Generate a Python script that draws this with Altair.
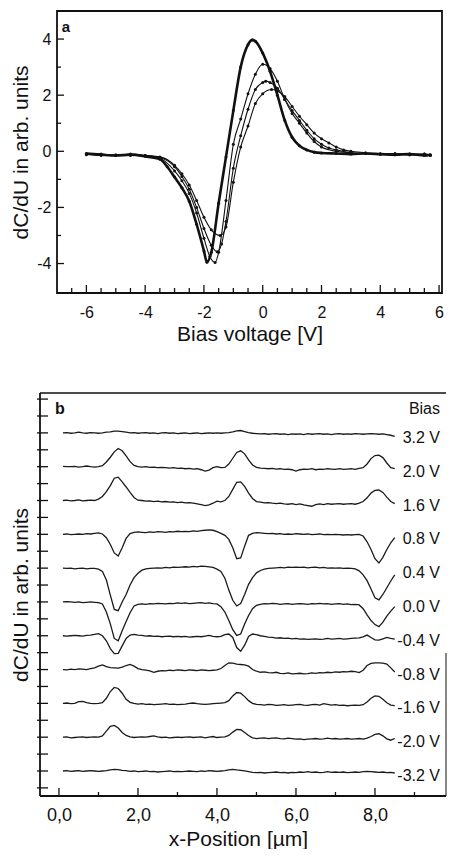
import altair as alt
import pandas as pd

FONT = "Liberation Sans"
INK = "#111111"

# ---------------- Panel a : dC/dU vs bias voltage ----------------
A1_X = [-6.0, -5.5, -5.0, -4.5, -4.0, -3.5, -3.25, -3.0, -2.75, -2.5, -2.25, -2.0, -1.9, -1.75,
        -1.5, -1.25, -1.0, -0.75, -0.5, -0.35, -0.25, 0.0, 0.25, 0.5, 0.75, 1.0, 1.25, 1.5, 1.75,
        2.0, 2.5, 3.0, 3.5, 4.0, 4.5, 5.0, 5.5, 5.7]
A1_Y = [-0.08, -0.12, -0.15, -0.12, -0.18, -0.28, -0.55, -0.92, -1.3, -1.78, -2.6, -3.55, -3.95, -3.6,
        -1.85, -0.2, 1.45, 3.0, 3.8, 3.97, 3.92, 3.5, 2.85, 2.0, 1.1, 0.5, 0.2, 0.05, -0.03,
        -0.06, -0.08, -0.1, -0.08, -0.1, -0.12, -0.1, -0.15, -0.12]

A2_X = [-6.0, -5.5, -5.0, -4.5, -4.0, -3.5, -3.0, -2.75, -2.5, -2.25, -2.0, -1.8, -1.62, -1.5,
        -1.25, -1.0, -0.75, -0.5, -0.25, 0.0, 0.25, 0.5, 0.75, 1.0, 1.25, 1.5, 1.75, 2.0, 2.5,
        3.0, 3.5, 4.0, 4.5, 5.0, 5.5, 5.7]
A2_Y = [-0.1, -0.15, -0.12, -0.15, -0.15, -0.25, -0.7, -1.05, -1.5, -2.2, -3.1, -3.75, -3.96, -3.6,
        -1.75, 0.25, 1.15, 2.05, 2.75, 3.1, 2.95, 2.5, 1.85, 1.35, 1.0, 0.65, 0.35, 0.15, 0.0,
        -0.05, -0.08, -0.1, -0.08, -0.12, -0.1, -0.13]

A3_X = [-6.0, -5.5, -5.0, -4.5, -4.0, -3.5, -3.0, -2.75, -2.5, -2.25, -2.0, -1.75, -1.55, -1.4,
        -1.25, -1.0, -0.75, -0.5, -0.25, 0.0, 0.1, 0.25, 0.5, 0.75, 1.0, 1.25, 1.5, 1.75, 2.0,
        2.25, 2.5, 3.0, 3.5, 4.0, 4.5, 5.0, 5.5, 5.7]
A3_Y = [-0.1, -0.12, -0.15, -0.1, -0.15, -0.22, -0.55, -0.9, -1.35, -2.0, -2.75, -3.35, -3.58, -3.3,
        -2.5, -0.6, 0.55, 1.5, 2.2, 2.45, 2.5, 2.45, 2.25, 1.85, 1.45, 1.1, 0.75, 0.45, 0.25,
        0.12, 0.05, -0.05, -0.08, -0.1, -0.12, -0.1, -0.12, -0.15]

A4_X = [-6.0, -5.5, -5.0, -4.5, -4.0, -3.5, -3.0, -2.75, -2.5, -2.25, -2.0, -1.75, -1.45, -1.25,
        -1.0, -0.75, -0.5, -0.25, 0.0, 0.3, 0.5, 0.75, 1.0, 1.25, 1.5, 1.75, 2.0, 2.25, 2.5,
        2.75, 3.0, 3.5, 4.0, 4.5, 5.0, 5.5, 5.7]
A4_Y = [-0.12, -0.1, -0.15, -0.12, -0.15, -0.2, -0.5, -0.8, -1.2, -1.75, -2.35, -2.8, -3.0, -2.7,
        -1.1, 0.15, 0.9, 1.7, 2.05, 2.2, 2.15, 1.95, 1.6, 1.25, 0.95, 0.65, 0.45, 0.3, 0.15,
        0.05, 0.0, -0.05, -0.1, -0.1, -0.12, -0.1, -0.14]

A_XTICKS = [-6, -4, -2, 0, 2, 4, 6]
A_YTICKS = [-4, -2, 0, 2, 4]
A_XTICK_MAJOR = [-6, -4, -2, 0, 2, 4, 6]
A_XTICK_MINOR = [-6.5, -5.5, -5, -4.5, -3.5, -3, -2.5, -1.5, -1, -0.5, 0.5, 1, 1.5, 2.5, 3, 3.5, 4.5, 5, 5.5]
A_YTICK_MAJOR = [-4, -2, 0, 2, 4]
A_YTICK_MINOR = [-3, -1, 1, 3]

# ---------------- Panel b : line scans at different bias ----------------
X_POS = [0.1, 0.2, 0.3, 0.4, 0.5, 0.6, 0.7, 0.8, 0.9, 1.0,
         1.1, 1.2, 1.3, 1.4, 1.5, 1.6, 1.7, 1.8, 1.9, 2.0,
         2.1, 2.2, 2.3, 2.4, 2.5, 2.6, 2.7, 2.8, 2.9, 3.0,
         3.1, 3.2, 3.3, 3.4, 3.5, 3.6, 3.7, 3.8, 3.9, 4.0,
         4.1, 4.2, 4.3, 4.4, 4.5, 4.6, 4.7, 4.8, 4.9, 5.0,
         5.1, 5.2, 5.3, 5.4, 5.5, 5.6, 5.7, 5.8, 5.9, 6.0,
         6.1, 6.2, 6.3, 6.4, 6.5, 6.6, 6.7, 6.8, 6.9, 7.0,
         7.1, 7.2, 7.3, 7.4, 7.5, 7.6, 7.7, 7.8, 7.9, 8.0,
         8.1, 8.2, 8.3, 8.4, 8.5]

# signals in hundredths of the trace spacing
S_P32 = [0, 1, -1, 0, 2, 0, -1, 1, 0, -1,
         0, 2, 3, 5, 5, 4, 2, 0, 1, -1,
         0, 1, -1, 0, -2, 0, 1, -1, 0, -2,
         -1, 0, -2, -1, 0, -2, -1, 0, -1, 0,
         -1, 0, 1, 3, 6, 7, 4, 1, -1, -2,
         -3, -2, -4, -3, -2, -4, -3, -5, -3, -4,
         -3, -5, -2, -4, -3, -2, -4, -3, -5, -3,
         -2, -4, -3, -4, -2, -3, -4, -3, -2, -3,
         -4, -3, -5, -7, -10]
S_P20 = [1, 0, 0, 1, -1, 0, 2, 0, -1, 0,
         3, 14, 28, 44, 54, 47, 32, 15, 4, 0,
         -1, 0, -2, -1, -3, -2, -3, -4, -3, -5,
         -4, -6, -5, -7, -6, -9, -13, -10, -3, 0,
         -3, -2, 8, 25, 42, 47, 38, 20, 5, -2,
         -4, -5, -6, -5, -7, -6, -8, -7, -9, -13,
         -9, -7, -8, -6, -9, -7, -8, -6, -7, -8,
         -6, -8, -7, -6, -8, -5, -3, 8, 24, 33,
         34, 27, 11, -3, -6]
S_P16 = [0, 1, -1, 0, 2, -1, 0, 1, 0, 4,
         12, 26, 44, 66, 69, 55, 40, 24, 9, 1,
         0, -2, -1, -3, -2, -4, -3, -5, -4, -6,
         -5, -7, -6, -8, -10, -12, -15, -13, -8, -2,
         -4, 0, 12, 33, 54, 55, 42, 22, 6, -3,
         -5, -7, -6, -8, -9, -8, -10, -11, -9, -12,
         -10, -13, -15, -17, -12, -10, -12, -9, -11, -10,
         -9, -11, -10, -9, -11, -8, -3, 8, 22, 30,
         31, 24, 10, -3, -9]
S_P08 = [0, 1, -1, 0, 1, 0, 2, 1, 3, 4,
         1, -10, -30, -55, -64, -40, -12, 2, 6, 7,
         6, 5, 7, 6, 8, 7, 6, 8, 7, 9,
         8, 9, 8, 10, 9, 11, 12, 13, 12, 8,
         3, -3, -15, -40, -72, -70, -35, -3, 3, 5,
         4, 3, 2, 3, 1, 2, 0, 1, 0, 2,
         1, 0, 1, -1, 0, 1, -1, 0, -1, 0,
         -1, -2, -1, -2, -1, 0, -5, -22, -45, -72,
         -85, -68, -45, -25, -10]
S_P04 = [0, -1, 0, -2, -1, 0, -2, -1, -1, -3,
         -10, -35, -80, -122, -126, -100, -78, -50, -28, -15,
         -6, -2, -1, 0, 1, 0, 2, 1, 3, 2,
         3, 4, 3, 5, 4, 6, 5, 4, 2, -3,
         -10, -30, -65, -95, -112, -105, -78, -48, -28, -14,
         -7, -3, -1, 0, 1, 2, 1, 3, 2, 3,
         2, 3, 1, 2, 3, 1, 2, 0, 1, 0,
         1, -1, 0, -1, -2, -8, -20, -37, -62, -88,
         -94, -78, -58, -38, -20]
S_P00 = [0, 1, 0, -1, 0, -2, -1, 0, -1, -2,
         -6, -30, -65, -108, -115, -85, -58, -32, -12, -7,
         -6, -7, -5, -6, -4, -5, -6, -4, -5, -3,
         -4, -3, -5, -4, -3, -2, -4, -3, -5, -6,
         -14, -30, -55, -82, -99, -95, -65, -40, -20, -10,
         -7, -5, -6, -4, -5, -7, -6, -5, -7, -6,
         -5, -6, -7, -5, -6, -4, -6, -5, -7, -6,
         -5, -7, -6, -8, -7, -9, -20, -38, -55, -67,
         -73, -60, -42, -27, -14]
S_M04 = [0, -1, 0, 1, 0, -1, 1, 2, 4, 6,
         0, -15, -38, -53, -52, -30, -8, 2, 4, 2,
         1, -1, 0, -2, -1, -3, -2, -1, -3, -2,
         -3, -2, -4, -3, -2, -3, -1, 1, -2, -3,
         -2, 3, 5, -5, -35, -46, -28, -2, 5, 3,
         0, -2, -4, -5, -7, -6, -8, -7, -9, -8,
         -10, -9, -11, -10, -9, -11, -10, -8, -10, -9,
         -8, -10, -9, -8, -7, -6, -3, 2, -5, -12,
         -13, -9, -5, -8, -10]
S_M08 = [0, -1, 1, 0, 2, 1, 0, 3, 5, 10,
         14, 9, 6, 5, 4, 7, 12, 15, 10, 3,
         0, -2, -4, -8, -5, -3, -4, -2, -3, -1,
         -2, -3, -1, -2, -3, -1, -2, -3, -2, -1,
         3, 12, 20, 19, 16, 15, 14, 10, 0, -5,
         -8, -7, -9, -10, -8, -11, -12, -10, -13, -12,
         -11, -13, -12, -10, -11, -9, -10, -8, -9, -7,
         -8, -6, -7, -5, -6, -9, -2, 12, 18, 20,
         20, 19, 16, 5, -7]
S_M16 = [0, 1, -1, 0, 5, 6, 2, 0, -1, 0,
         2, 15, 35, 47, 44, 30, 12, 3, 0, -2,
         -1, -3, -2, -4, -3, -2, -1, -3, -2, -4,
         -3, -2, 0, 1, -1, -2, -3, -2, -1, 0,
         1, 2, 8, 22, 32, 30, 20, 8, 0, -3,
         -4, -5, -3, -4, -6, -5, -4, -6, -5, -4,
         -3, -5, -6, -4, -3, -5, -1, -3, -5, -4,
         -6, -5, -7, -6, -5, -6, -4, 4, 15, 22,
         21, 12, 2, -5, -7]
S_M20 = [0, 1, -2, -1, 0, 1, -1, 0, 1, 0,
         4, 18, 32, 35, 27, 14, 5, 1, -1, 0,
         1, 0, 2, 4, 1, -1, 0, -2, -1, 0,
         -1, 0, 1, -1, 0, 1, -2, 0, 2, -1,
         0, 1, 5, 15, 23, 22, 14, 5, -2, -4,
         -3, -2, -4, -3, -2, -4, -5, -3, -4, -6,
         -5, -7, -6, -5, -4, -6, -5, -3, -5, -4,
         -6, -5, -4, -6, -5, -4, -6, -3, 2, 8,
         10, 4, -5, -9, -4]
S_M32 = [0, 1, -1, 0, 1, -1, 0, 1, 0, -1,
         0, 1, 3, 5, 4, 2, 1, -1, 0, -2,
         -1, 0, -2, -1, -3, -2, -1, 0, -2, -1,
         -2, -1, 0, -1, -2, 0, -1, 1, 0, -1,
         0, 1, 3, 5, 3, 2, 0, -2, -4, -5,
         -4, -6, -5, -4, -3, -5, -4, -6, -4, -5,
         -3, -4, -2, -4, -3, -5, -4, -2, -4, -3,
         -4, -3, -5, -4, -3, -4, -2, -1, -2, -3,
         -4, -3, -5, -4, -6]

BIAS_LABELS = ["3.2 V", "2.0 V", "1.6 V", "0.8 V", "0.4 V", "0.0 V",
               "-0.4 V", "-0.8 V", "-1.6 V", "-2.0 V", "-3.2 V"]
BIAS_OFFSETS = [10, 9, 8, 7, 6, 5, 4, 3, 2, 1, 0]
SIGNALS = [S_P32, S_P20, S_P16, S_P08, S_P04, S_P00, S_M04, S_M08, S_M16, S_M20, S_M32]

B_XTICKS = [0, 2, 4, 6, 8]
B_XTICK_MAJOR = [0, 2, 4, 6, 8]
B_XTICK_MINOR = [1, 3, 5, 7, 9]
B_YTICKS = [-0.5, 0, 0.5, 1, 1.5, 2, 2.5, 3, 3.5, 4, 4.5, 5, 5.5, 6, 6.5, 7, 7.5,
            8, 8.5, 9, 9.5, 10, 10.5, 11]

# ---------------- build tables ----------------
rows_a = []
for name, xs, ys in [("A1", A1_X, A1_Y), ("A2", A2_X, A2_Y), ("A3", A3_X, A3_Y), ("A4", A4_X, A4_Y)]:
    for xv, yv in zip(xs, ys):
        rows_a.append({"curve": name, "x": xv, "y": yv})
df_a = pd.DataFrame(rows_a)

rows_b = []
for lab, off, sig in zip(BIAS_LABELS, BIAS_OFFSETS, SIGNALS):
    for xv, sv in zip(X_POS, sig):
        rows_b.append({"label": lab, "offset": off, "x": xv, "s": sv})
df_b = pd.DataFrame(rows_b)
df_lab = pd.DataFrame({"label": BIAS_LABELS, "offset": BIAS_OFFSETS})

one = pd.DataFrame({"k": [0]})

axis_common = dict(grid=False, ticks=False, domain=False, labelFont=FONT, titleFont=FONT,
                   labelColor=INK, titleColor=INK, titleFontWeight="normal", minExtent=0)


def xrule(vals, scale, axis, h, length, width=1.3):
    return alt.Chart(pd.DataFrame({"t": vals})).mark_rule(color=INK, strokeWidth=width).encode(
        x=alt.X("t:Q", scale=scale, axis=axis), y=alt.value(h), y2=alt.value(h - length))


def yrule(vals, scale, axis, x0, x1, width=1.3):
    return alt.Chart(pd.DataFrame({"t": vals})).mark_rule(color=INK, strokeWidth=width).encode(
        y=alt.Y("t:Q", scale=scale, axis=axis), x=alt.value(x0), x2=alt.value(x1))


# ---------------- panel a chart ----------------
WA, HA = 385, 282
xa = alt.Scale(domain=[-7.0, 6.1], nice=False, zero=False)
ya = alt.Scale(domain=[-5.05, 5.0], nice=False, zero=False)

xa_axis = alt.Axis(values=A_XTICKS, title="Bias voltage [V]", labelFontSize=16, titleFontSize=21,
                   labelPadding=11, titlePadding=3, labelExpr="'' + datum.value", labelFlush=False,
                   **axis_common)
ya_axis = alt.Axis(values=A_YTICKS, title="dC/dU in arb. units", labelFontSize=16, titleFontSize=21,
                   labelPadding=6, titlePadding=5, labelExpr="'' + datum.value", **axis_common)

base_a = alt.Chart(df_a)
thin_a = base_a.transform_filter("datum.curve != 'A1'").mark_line(
    interpolate="monotone", color=INK, strokeWidth=1.1
).encode(x=alt.X("x:Q", scale=xa, axis=xa_axis), y=alt.Y("y:Q", scale=ya, axis=ya_axis),
         detail="curve:N")
thick_a = base_a.transform_filter("datum.curve == 'A1'").mark_line(
    interpolate="monotone", color=INK, strokeWidth=2.6
).encode(x=alt.X("x:Q", scale=xa, axis=xa_axis), y=alt.Y("y:Q", scale=ya, axis=ya_axis))
pts_a = base_a.mark_circle(color=INK, size=9, opacity=1).encode(
    x=alt.X("x:Q", scale=xa, axis=xa_axis), y=alt.Y("y:Q", scale=ya, axis=ya_axis))

tick_a = [
    xrule(A_XTICK_MAJOR, xa, xa_axis, HA, 8),
    xrule(A_XTICK_MINOR, xa, xa_axis, HA, 5),
    yrule(A_YTICK_MAJOR, ya, ya_axis, 0, 7),
    yrule(A_YTICK_MINOR, ya, ya_axis, 0, 4),
]
letter_a = alt.Chart(one).mark_text(text="a", font=FONT, fontSize=15, fontWeight="bold",
                                    color=INK, align="center", baseline="middle").encode(
    x=alt.value(9), y=alt.value(16))

panel_a = alt.layer(thin_a, thick_a, pts_a, *tick_a, letter_a).properties(
    width=WA, height=HA, view=alt.ViewBackground(stroke=INK, strokeWidth=1.8))

# ---------------- panel b chart ----------------
# plot area starts at the same x as panel a; the frame of b sits 17 px further left
WB, HB = 389, 403
SHIFT = -17
xb = alt.Scale(domain=[-0.05, 9.798], nice=False, zero=False)
yb = alt.Scale(domain=[-0.74, 11.18], nice=False, zero=False)

xb_axis = alt.Axis(values=B_XTICKS, title="x-Position [µm]", labelFontSize=18, titleFontSize=21,
                   labelPadding=10, titlePadding=4, titleX=181, titleAlign="center",
                   labelExpr="replace(format(datum.value, '.1f'), '.', ',')", labelFlush=False,
                   **axis_common)
yb_axis = alt.Axis(title="dC/dU in arb. units", labels=False, titleFontSize=21, titlePadding=26,
                   **axis_common)

traces_b = alt.Chart(df_b).transform_calculate(
    yy="datum.offset + datum.s / 100"
).mark_line(color="#1a1a1a", strokeWidth=1.3).encode(
    x=alt.X("x:Q", scale=xb, axis=xb_axis),
    y=alt.Y("yy:Q", scale=yb, axis=yb_axis),
    detail="label:N",
)
labels_b = alt.Chart(df_lab).mark_text(font=FONT, fontSize=16, color=INK, align="right",
                                       baseline="middle", dy=5).encode(
    x=alt.value(WB - 6), y=alt.Y("offset:Q", scale=yb, axis=yb_axis), text="label:N")
bias_head = alt.Chart(one).mark_text(text="Bias", font=FONT, fontSize=16, color=INK,
                                     align="right", baseline="middle").encode(
    x=alt.value(WB - 6), y=alt.value(16))
letter_b = alt.Chart(one).mark_text(text="b", font=FONT, fontSize=16, fontWeight="bold",
                                    color=INK, align="center", baseline="middle").encode(
    x=alt.value(SHIFT + 20), y=alt.value(16))

frame_b = [
    alt.Chart(one).mark_rule(color=INK, strokeWidth=1.8).encode(
        x=alt.value(SHIFT), y=alt.value(0), y2=alt.value(HB)),
    alt.Chart(one).mark_rule(color=INK, strokeWidth=1.8).encode(
        x=alt.value(SHIFT), x2=alt.value(WB), y=alt.value(HB)),
    alt.Chart(one).mark_rule(color=INK, strokeWidth=1.6).encode(
        x=alt.value(SHIFT), x2=alt.value(WB), y=alt.value(0)),
    alt.Chart(one).mark_rule(color=INK, strokeWidth=1.0).encode(
        x=alt.value(WB), y=alt.value(260), y2=alt.value(HB)),
]
tick_b = [
    xrule(B_XTICK_MAJOR, xb, xb_axis, HB, 8),
    xrule(B_XTICK_MINOR, xb, xb_axis, HB, 4),
    yrule(B_YTICKS, yb, yb_axis, SHIFT - 3, SHIFT + 8),
]

panel_b = alt.layer(traces_b, labels_b, bias_head, letter_b, *frame_b, *tick_b).properties(
    width=WB, height=HB, view=alt.ViewBackground(stroke=None))

chart = alt.vconcat(panel_a, panel_b, spacing=47).properties(
    padding={"left": 9, "top": 10, "right": 0, "bottom": 0}, background="white"
)

chart.save("out.html", embed_options={"renderer": "svg", "actions": False})
